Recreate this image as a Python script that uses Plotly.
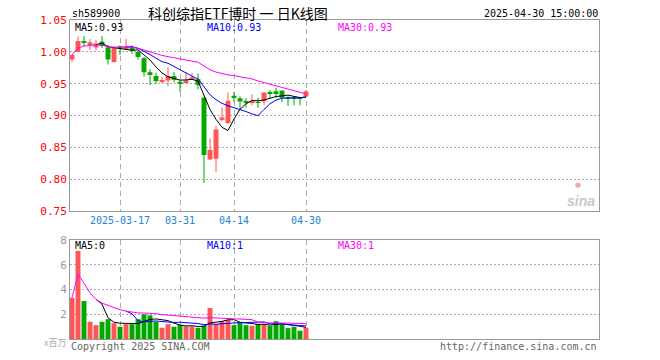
import plotly.graph_objects as go
import numpy as np

# ---------------- data ----------------
dates = ["2025-03-05", "2025-03-06", "2025-03-07", "2025-03-10", "2025-03-11", "2025-03-12",
         "2025-03-13", "2025-03-14", "2025-03-17", "2025-03-18", "2025-03-19", "2025-03-20",
         "2025-03-21", "2025-03-24", "2025-03-25", "2025-03-26", "2025-03-27", "2025-03-28",
         "2025-03-31", "2025-04-01", "2025-04-02", "2025-04-03", "2025-04-07", "2025-04-08",
         "2025-04-09", "2025-04-10", "2025-04-11", "2025-04-14", "2025-04-15", "2025-04-16",
         "2025-04-17", "2025-04-18", "2025-04-21", "2025-04-22", "2025-04-23", "2025-04-24",
         "2025-04-25", "2025-04-28", "2025-04-29", "2025-04-30"]
opens = [0.988, 1.000, 1.017, 1.012, 1.007, 1.016, 1.007, 0.984, 1.009, 1.006,
         1.007, 1.000, 0.990, 0.968, 0.962, 0.954, 0.955, 0.962, 0.953, 0.951,
         0.957, 0.957, 0.928, 0.831, 0.832, 0.893, 0.888, 0.931, 0.927, 0.922,
         0.920, 0.921, 0.922, 0.937, 0.938, 0.939, 0.929, 0.928, 0.928, 0.930]
highs = [0.996, 1.024, 1.025, 1.020, 1.019, 1.025, 1.011, 1.008, 1.010, 1.020,
         1.010, 1.002, 0.992, 0.973, 0.967, 0.961, 0.976, 0.968, 0.956, 0.968,
         0.967, 0.966, 0.930, 0.864, 0.884, 0.913, 0.936, 0.937, 0.930, 0.927,
         0.933, 0.928, 0.937, 0.940, 0.944, 0.940, 0.930, 0.929, 0.929, 0.940]
lows = [0.984, 0.999, 1.009, 1.003, 1.002, 1.006, 0.980, 0.983, 0.995, 1.004,
        0.997, 0.988, 0.961, 0.948, 0.950, 0.951, 0.946, 0.952, 0.937, 0.950,
        0.956, 0.941, 0.794, 0.830, 0.811, 0.891, 0.887, 0.921, 0.910, 0.912,
        0.916, 0.912, 0.916, 0.926, 0.928, 0.921, 0.915, 0.916, 0.916, 0.929]
closes = [0.995, 1.017, 1.015, 1.015, 1.013, 1.009, 0.988, 1.007, 1.006, 1.009,
          1.002, 0.992, 0.968, 0.965, 0.954, 0.955, 0.962, 0.956, 0.951, 0.955,
          0.960, 0.948, 0.838, 0.846, 0.878, 0.897, 0.923, 0.929, 0.922, 0.921,
          0.923, 0.920, 0.936, 0.935, 0.935, 0.928, 0.926, 0.926, 0.926, 0.938]
volumes = [3.33, 7.12, 3.07, 1.39, 1.12, 1.39, 1.60, 1.28, 0.99, 1.20,
           1.20, 1.60, 2.00, 1.92, 1.39, 0.91, 1.20, 0.99, 1.15, 1.01,
           1.01, 0.91, 1.07, 2.50, 1.20, 1.44, 1.55, 1.12, 1.39, 1.12,
           1.07, 1.20, 1.20, 1.07, 1.44, 1.20, 0.88, 0.99, 0.67, 0.91]
tick_dates = ["2025-03-17", "2025-03-31", "2025-04-14", "2025-04-30"]
tick_text = ["2025-03-17", "03-31", "04-14", "04-30"]
price_ticks = [0.75, 0.80, 0.85, 0.90, 0.95, 1.00, 1.05]
vol_ticks = [2, 4, 6, 8]

# ---------------- helpers ----------------
RED = "#ff5555"
GREEN = "#00a800"
MONO = "DejaVu Sans Mono"
L, R, T, B = 70, 61, 20, 21
W, H = 660, 360
PW, PH = W - L - R, H - T - B


def px(xp):
    return (xp - L) / PW


def py(yp):
    return (H - B - yp) / PH


def ma(vals, n, expanding=False):
    out = []
    for i in range(len(vals)):
        if i < n - 1:
            out.append(float(np.mean(vals[:i + 1])) if expanding else None)
        else:
            out.append(float(np.mean(vals[i - n + 1:i + 1])))
    return out


idx = list(range(len(dates)))
up = [c >= o for o, c in zip(opens, closes)]
colors = [RED if u else GREEN for u in up]
tick_idx = [dates.index(d) for d in tick_dates]

fig = go.Figure()

# wicks
for flag, col in ((True, RED), (False, GREEN)):
    xs, ys = [], []
    for i in idx:
        if up[i] == flag:
            xs += [i, i, None]
            ys += [lows[i], highs[i], None]
    fig.add_trace(go.Scatter(x=xs, y=ys, mode="lines", line=dict(color=col, width=1),
                             hoverinfo="skip", xaxis="x", yaxis="y"))

# bodies
fig.add_trace(go.Bar(x=idx, y=[max(abs(c - o), 0.0008) for o, c in zip(opens, closes)],
                     base=[min(o, c) for o, c in zip(opens, closes)],
                     marker=dict(color=colors, line=dict(width=0)), width=0.82,
                     xaxis="x", yaxis="y"))

ma5 = ma(closes, 5)
ma10 = ma(closes, 10)
ma30 = ma(closes, 30, expanding=True)
for series, col in ((ma5, "#000000"), (ma10, "#0000ff"), (ma30, "#ff00ff")):
    fig.add_trace(go.Scatter(x=idx, y=series, mode="lines", line=dict(color=col, width=1),
                             xaxis="x", yaxis="y", connectgaps=False))

# volume
fig.add_trace(go.Bar(x=idx, y=volumes, marker=dict(color=colors, line=dict(width=0)),
                     width=0.82, xaxis="x2", yaxis="y2"))
vma5 = ma(volumes, 5)
vma10 = ma(volumes, 10)
vma30 = ma(volumes, 30, expanding=True)
for series, col in ((vma5, "#000000"), (vma10, "#0000ff"), (vma30, "#ff00ff")):
    fig.add_trace(go.Scatter(x=idx, y=series, mode="lines", line=dict(color=col, width=1),
                             xaxis="x2", yaxis="y2"))

xr = [-2 / 6, -2 / 6 + PW / 6]
price_bottom = py(211)
vol_top = py(240)

common_x = dict(range=xr, showgrid=True, gridcolor="#aaaaaa", griddash="5px,4px", gridwidth=1,
                tickvals=tick_idx, showline=True, mirror=True, linecolor="#999999",
                linewidth=1, zeroline=False, ticks="", fixedrange=True)

fig.update_layout(
    width=W, height=H, margin=dict(l=L, r=R, t=T, b=B),
    paper_bgcolor="white", plot_bgcolor="white", showlegend=False,
    xaxis=dict(domain=[0, 1], anchor="y", ticktext=tick_text,
               tickfont=dict(family=MONO, size=10, color="#1a85d6"), **common_x),
    yaxis=dict(domain=[price_bottom, 1], range=[0.75, 1.05], tickvals=price_ticks,
               ticktext=[f"{v:.2f}" for v in price_ticks],
               tickfont=dict(family=MONO, size=11, color="#ff0000"),
               showgrid=True, gridcolor="#aaaaaa", griddash="2px,2px", showline=True,
               mirror=True, linecolor="#999999", linewidth=1, zeroline=False, ticks=""),
    xaxis2=dict(domain=[0, 1], anchor="y2", matches="x", showticklabels=False, **common_x),
    yaxis2=dict(domain=[0, vol_top], range=[0, 8], tickvals=vol_ticks,
                ticktext=[str(v) for v in vol_ticks],
                tickfont=dict(family=MONO, size=11, color="#999999"),
                showgrid=True, gridcolor="#aaaaaa", griddash="2px,2px", showline=True,
                mirror=True, linecolor="#999999", linewidth=1, zeroline=False, ticks=""),
)


def ann(text, xp, yp, color="#000000", size=10, xanchor="left", family=MONO, **kw):
    fig.add_annotation(text=text, x=px(xp), y=py(yp), xref="paper", yref="paper",
                       xanchor=xanchor, yanchor="middle", showarrow=False,
                       font=dict(family=family, size=size, color=color), **kw)


ann("sh589900", 70, 13)
ann("科创综指ETF博时 一 日K线图", 238, 13, size=14, xanchor="center",
    family="Noto Sans CJK SC")
ann("2025-04-30 15:00:00", 600, 13, xanchor="right")

ann(f"MA5:{ma5[-1]:.2f}", 73, 27, "#000000")
ann(f"MA10:{ma10[-1]:.2f}", 205, 27, "#0000ff")
ann(f"MA30:{ma30[-1]:.2f}", 336, 27, "#ff00ff")

ann(f"MA5:{int(vma5[-1])}", 73, 246, "#000000")
ann(f"MA10:{int(vma10[-1])}", 205, 246, "#0000ff")
ann(f"MA30:{int(vma30[-1])}", 336, 246, "#ff00ff")

ann("Copyright 2025 SINA.COM", 69, 346, "#666666")
ann("http://finance.sina.com.cn", 599, 346, "#666666", xanchor="right")
ann("x百万", 68, 342, "#aaaaaa", size=9, xanchor="right", family="Noto Sans CJK SC")

ann("<b><i>sina</i></b>", 597, 201, "#c8c8c8", size=14, xanchor="right", family="Liberation Sans")
ann("●", 578, 185, "#f6a6a6", size=7, xanchor="center", family="DejaVu Sans")

fig.write_html("out.html", config={"displayModeBar": False},
               post_script="document.body.style.margin='0px';")
